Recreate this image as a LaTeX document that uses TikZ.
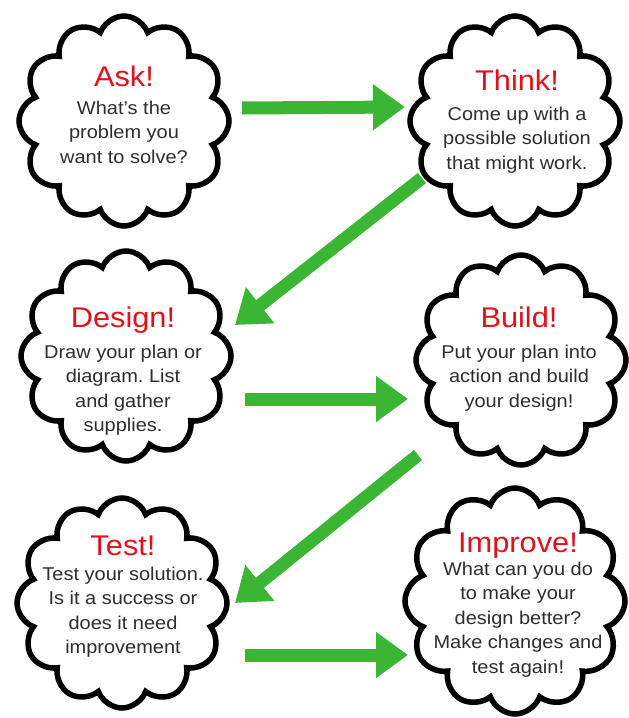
\documentclass[tikz,border=0pt]{standalone}
\usepackage{fontspec}
\setmainfont[FakeStretch=1.08]{Liberation Sans}
\usetikzlibrary{shapes.symbols,arrows.meta,calc}
\definecolor{stepred}{RGB}{224,17,28}
\definecolor{stepgreen}{RGB}{58,181,52}
\definecolor{stepgray}{RGB}{45,45,45}
\frenchspacing

\begin{document}
\begin{tikzpicture}[x=1pt,y=-1pt,
  puff/.style={cloud, cloud puffs=12, cloud puff arc=140, cloud ignores aspect, draw, line width=5.5pt, minimum width=210pt, minimum height=210pt, inner sep=0pt},
  heading/.style={anchor=base, text=stepred, font=\fontsize{28.5}{30}\selectfont, inner sep=0pt},
  blurb/.style={anchor=north, align=center, text=stepgray, font=\fontsize{18.5}{24.5}\selectfont, inner sep=0pt},
  go/.style={draw=stepgreen, line width=13pt, -{Triangle[width=44pt,length=32pt]}}]
  \useasboundingbox (0,0) rectangle (629,718);

  \node (ask) [puff] at (124,121) {};
  \node (think) [puff] at (515,121) {};
  \node (design) [puff] at (126,356) {};
  \node (build) [puff] at (521,360) {};
  \node (test) [puff] at (122,603) {};
  \node (improve) [puff, minimum width=220pt, minimum height=226pt] at (515,601) {};

  \node (askhead) [heading] at (124,86) {Ask!};
  \node (asktext) [blurb] at (124,100.5) {What's the\\problem you\\want to solve?};
  \node (thinkhead) [heading] at (517,90) {Think!};
  \node (thinktext) [blurb] at (517,106.5) {Come up with a\\possible solution\\that might work.};
  \node (designhead) [heading] at (123,327) {Design!};
  \node (designtext) [blurb] at (123,344.5) {Draw your plan or\\diagram. List\\and gather\\supplies.};
  \node (buildhead) [heading] at (519,327) {Build!};
  \node (buildtext) [blurb] at (519,344.5) {Put your plan into\\action and build\\your design!};
  \node (testhead) [heading] at (123,555) {Test!};
  \node (testtext) [blurb] at (123,566.5) {Test your solution.\\Is it a success or\\does it need\\improvement};
  \node (improvehead) [heading] at (518,552) {Improve!};
  \node (improvetext) [blurb] at (518,561.5) {What can you do\\to make your\\design better?\\Make changes and\\test again!};

  \draw [go] ($(ask)+(118,-13)$) -- ($(think)+(-110,-14)$);
  \draw [go] ($(think)+(-93,57)$) -- ($(design)+(109,-31)$);
  \draw [go] ($(design)+(119,43)$) -- ($(build)+(-113,39)$);
  \draw [go] ($(build)+(-103,95)$) -- ($(test)+(113,0)$);
  \draw [go] ($(test)+(123,52)$) -- ($(improve)+(-107,54)$);
\end{tikzpicture}
\end{document}
